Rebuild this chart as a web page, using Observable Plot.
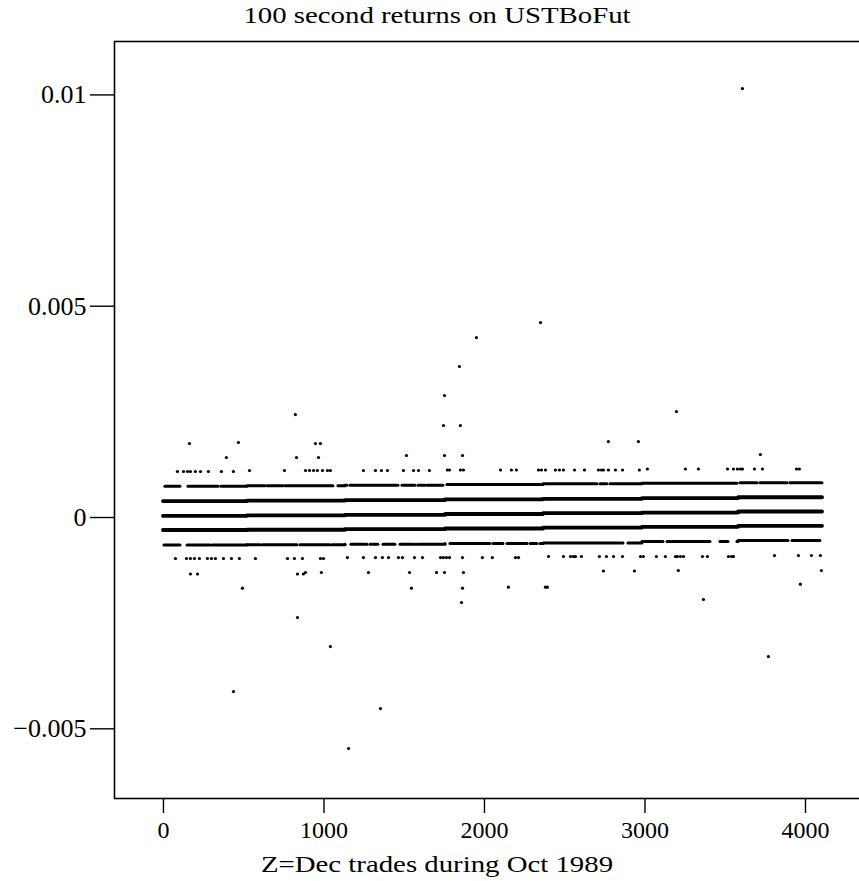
<!DOCTYPE html>
<html><head><meta charset="utf-8">
<script src="https://cdn.jsdelivr.net/npm/d3@7"></script>
<script src="https://cdn.jsdelivr.net/npm/@observablehq/plot@0.6"></script>
<style>
html,body{margin:0;padding:0;background:#fff;}
#wrap{position:relative;width:859px;height:881px;overflow:hidden;}
.cap{position:absolute;left:437px;transform:translateX(-50%) scaleX(1.2);font-family:"Liberation Serif",serif;font-size:24px;line-height:24px;white-space:nowrap;color:#000;}
#title{top:3px;}
#xlabel{top:852px;}
#chart{position:absolute;top:36px;left:0;width:880px;}
#chart svg{max-width:none !important;}
</style></head><body>
<div id="wrap"><div id="title" class="cap"></div><div id="chart"></div><div id="xlabel" class="cap"></div></div>
<script>
const titleText = "100 second returns on USTBoFut";
const xLabel = "Z=Dec trades during Oct 1989";
const xTicks = [0, 1000, 2000, 3000, 4000];
const xTickLabels = ["0", "1000", "2000", "3000", "4000"];
const yTicks = [-0.005, 0, 0.005, 0.01];
const yTickLabels = ["\u22120.005", "0", "0.005", "0.01"];

// trading-day blocks (trade index) and the tick levels inside each
const blockStart = [0, 523, 1134, 1757, 2368, 2984, 3583];
const blockEnd   = [523, 1134, 1757, 2368, 2984, 3583, 4106];
const bandA = [0.000741, 0.000752, 0.000762, 0.000781, 0.000797, 0.000809, 0.000821];
const bandB = [0.000390, 0.000402, 0.000412, 0.000428, 0.000442, 0.000461, 0.000480];
const bandC = [0.000040, 0.000052, 0.000064, 0.000083, 0.000102, 0.000118, 0.000142];
const bandD = [-0.000296, -0.000289, -0.000277, -0.000260, -0.000237, -0.000220, -0.000196];
const bandE = [-0.000651, -0.000646, -0.000634, -0.000615, -0.000603, -0.000568, -0.000544];

// runs of trades on the +2 and -2 tick levels
const aRuns = [[12,106],[156,343],[361,635],[648,748],[760,1059],[1090,1146],[1165,1464],[1489,1570],[1589,1632],[1645,1744],[1769,2349],[2361,2704],[2723,2766],[2785,3576],[3595,3701],[3719,3888],[3906,4106]];
const eRuns = [[6,106],[150,293],[305,604],[617,835],[854,1040],[1053,1134],[1171,1271],[1290,1339],[1371,1445],[1477,1570],[1582,1757],[1788,2037],[2056,2118],[2143,2268],[2287,2330],[2349,2866],[2897,3115],[3140,3408],[3470,3520],[3576,3894],[3919,4093]];
const fullRuns = [[0,4106]];

// isolated returns
const plus3 = [[87,0.001089],[125,0.001089],[150,0.001089],[168,0.001089],[199,0.001089],[231,0.001089],[280,0.001089],[361,0.001089],[436,0.001089],[536,0.001112],[754,0.001112],[885,0.001112],[910,0.001112],[935,0.001112],[959,0.001112],[991,0.001112],[1022,0.001112],[1040,0.001112],[1246,0.001112],[1321,0.001112],[1358,0.001112],[1396,0.001112],[1495,0.001112],[1558,0.001112],[1589,0.001112],[1657,0.001112],[1769,0.001124],[1782,0.001124],[1850,0.001124],[1869,0.001124],[2100,0.001124],[2168,0.001124],[2199,0.001124],[2336,0.001124],[2355,0.001124],[2380,0.001124],[2442,0.001124],[2467,0.001124],[2492,0.001124],[2561,0.001124],[2623,0.001124],[2710,0.001124],[2729,0.001124],[2741,0.001124],[2772,0.001124],[2816,0.001124],[2860,0.001124],[2965,0.001124],[3015,0.001148],[3252,0.001148],[3333,0.001148],[3514,0.001148],[3551,0.001148],[3576,0.001148],[3595,0.001148],[3607,0.001148],[3682,0.001148],[3732,0.001148],[3944,0.001148],[3962,0.001148]];
const minus3 = [[75,-0.000970],[143,-0.000970],[168,-0.000970],[193,-0.000970],[224,-0.000970],[274,-0.000970],[299,-0.000970],[324,-0.000970],[374,-0.000970],[424,-0.000970],[473,-0.000970],[573,-0.000970],[773,-0.000970],[816,-0.000970],[866,-0.000970],[978,-0.000970],[997,-0.000970],[1146,-0.000947],[1246,-0.000947],[1321,-0.000947],[1364,-0.000947],[1402,-0.000947],[1464,-0.000947],[1489,-0.000947],[1564,-0.000947],[1614,-0.000947],[1726,-0.000947],[1744,-0.000947],[1763,-0.000947],[1782,-0.000947],[1863,-0.000947],[1987,-0.000947],[2049,-0.000947],[2193,-0.000947],[2212,-0.000947],[2399,-0.000923],[2492,-0.000923],[2536,-0.000923],[2554,-0.000923],[2567,-0.000923],[2604,-0.000923],[2716,-0.000923],[2760,-0.000923],[2804,-0.000923],[2860,-0.000923],[2972,-0.000923],[2990,-0.000923],[3071,-0.000923],[3127,-0.000923],[3190,-0.000923],[3202,-0.000923],[3221,-0.000923],[3240,-0.000923],[3358,-0.000923],[3389,-0.000923],[3520,-0.000923],[3539,-0.000923],[3551,-0.000923],[3807,-0.000899],[3956,-0.000899],[4037,-0.000899],[4093,-0.000899]];
const plus4 = [[392,0.001420],[829,0.001420],[966,0.001420],[1514,0.001467],[1751,0.001467],[1863,0.001467],[3719,0.001491]];
const plus5 = [[162,0.001751],[467,0.001775],[947,0.001751],[978,0.001751],[2772,0.001798],[2959,0.001798]];
const minus4 = [[168,-0.001337],[212,-0.001337],[835,-0.001337],[872,-0.001337],[885,-0.001301],[984,-0.001301],[1277,-0.001301],[1533,-0.001301],[1701,-0.001301],[1751,-0.001301],[1869,-0.001301],[2741,-0.001266],[2934,-0.001266],[3208,-0.001254],[4099,-0.001254]];
const minus5 = [[492,-0.001673],[1545,-0.001673],[1863,-0.001673],[2149,-0.001649],[2380,-0.001649],[2392,-0.001649],[3968,-0.001578]];
const outliers = [[3607,0.010151],[2349,0.004614],[1950,0.004259],[1844,0.003573],[1751,0.002887],[822,0.002437],[3196,0.002508],[1745,0.002177],[1850,0.002177],[1857,-0.002011],[3364,-0.001940],[835,-0.002366],[1040,-0.003053],[3769,-0.003289],[436,-0.004117],[1352,-0.004520],[1153,-0.005466]];

const xDomain = [-305, 4405];
const yDomain = [-0.006649, 0.011264];

// split runs at block boundaries and attach the block's level
function segs(runs, levels, w) {
  const out = [];
  for (const [s, e] of runs) {
    for (let b = 0; b < blockStart.length; b++) {
      const a = Math.max(s, blockStart[b]), z = Math.min(e, blockEnd[b]);
      if (z >= a) out.push({t0: a, t1: z, v: levels[b], w});
    }
  }
  return out;
}
const bandSegs = [
  ...segs(aRuns, bandA, 3), ...segs(fullRuns, bandB, 3.8), ...segs(fullRuns, bandC, 3.8),
  ...segs(fullRuns, bandD, 3.8), ...segs(eRuns, bandE, 3)
];
const dots = [...plus3, ...minus3, ...plus4, ...plus5, ...minus4, ...minus5, ...outliers].map(([t, v]) => ({t, v}));

const xFmt = new Map(xTicks.map((d, i) => [d, xTickLabels[i]]));
const yFmt = new Map(yTicks.map((d, i) => [d, yTickLabels[i]]));

document.getElementById("title").textContent = titleText;
document.getElementById("xlabel").textContent = xLabel;

const chart = Plot.plot({
  width: 870, height: 810,
  marginLeft: 114, marginRight: 0, marginTop: 5, marginBottom: 48,
  style: {fontFamily: "'Liberation Serif', serif", fontSize: "24px", color: "#000", background: "#fff", overflow: "visible", maxWidth: "none"},
  x: {domain: xDomain},
  y: {domain: yDomain},
  marks: [
    Plot.ruleY(bandSegs, {y: "v", x1: "t0", x2: "t1", strokeWidth: "w", stroke: "#000", strokeLinecap: "round"}),
    Plot.dot(dots, {x: "t", y: "v", r: 1.6, fill: "#000", stroke: null}),
    Plot.frame({stroke: "#000", strokeWidth: 1.6}),
    Plot.axisY(yTicks, {tickSize: 24, tickPadding: 4, tickFormat: d => yFmt.get(d), fontSize: 26, label: null, strokeWidth: 1.4}),
    Plot.axisX(xTicks, {tickSize: 15, tickPadding: 7, tickFormat: d => xFmt.get(d), fontSize: 24, label: null, strokeWidth: 1.4})
  ]
});
document.getElementById("chart").appendChild(chart);
</script>
</body></html>
